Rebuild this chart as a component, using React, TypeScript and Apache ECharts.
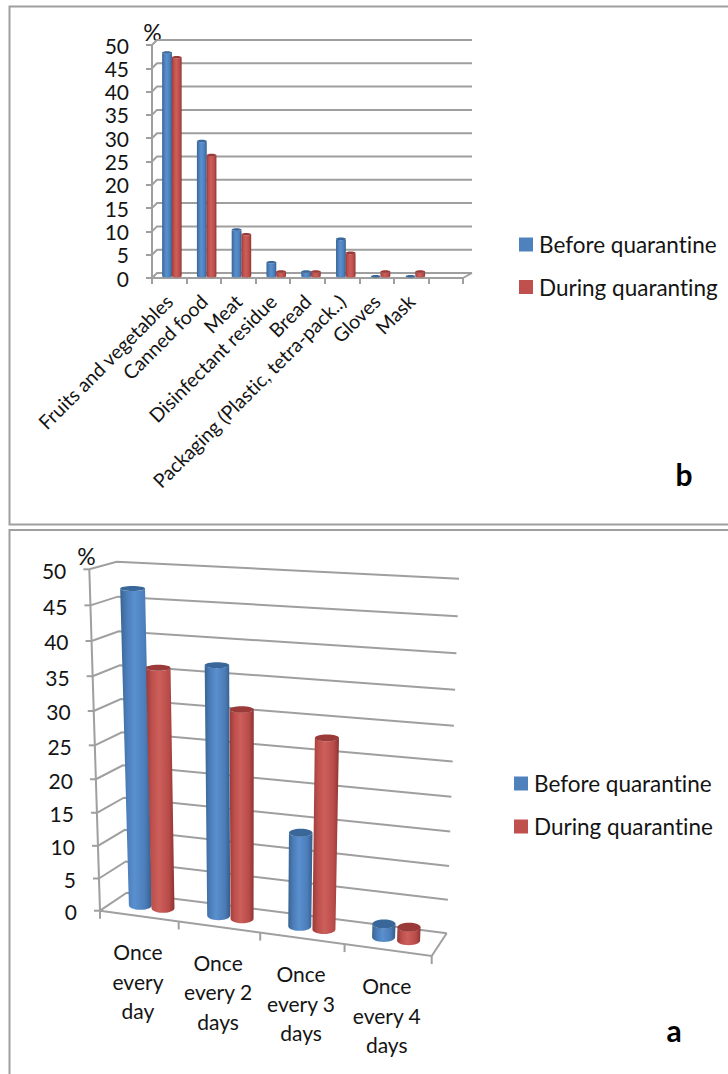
import React, { useEffect, useRef } from "react";
import * as echarts from "echarts";

const yTicks = [0, 5, 10, 15, 20, 25, 30, 35, 40, 45, 50];

const foodCategories = [
  "Fruits and vegetables",
  "Canned food",
  "Meat",
  "Disinfectant residue",
  "Bread",
  "Packaging (Plastic, tetra-pack..)",
  "Gloves",
  "Mask",
  "",
];
const foodBefore = [48, 29, 10, 3, 1, 8, 0, 0];
const foodDuring = [47, 26, 9, 1, 1, 5, 1, 1];

const freqCategories = [
  "Once\nevery\nday",
  "Once\nevery 2\ndays",
  "Once\nevery 3\ndays",
  "Once\nevery 4\ndays",
];
const freqBefore = [47, 37, 14, 2];
const freqDuring = [36, 31, 28, 2];

const BEFORE = "Before quarantine";
const DURING_B = "During quaranting";
const DURING_A = "During quarantine";
const FONT = "Lato";
const GREY = "#9f9f9f";
const TEXT = "#141414";

const shade = {
  blue: {
    base: "#4f81bd",
    cap: "#3a6799",
    stops: ["#39648f", "#4a7cb8", "#5a90cf", "#4a7cb8", "#345c88"],
  },
  red: {
    base: "#c0504d",
    cap: "#9b3b39",
    stops: ["#973a38", "#bd4f4c", "#cd5f5b", "#b94c49", "#8c3432"],
  },
};

type Pt = [number, number];
type Shade = typeof shade.blue;

function bodyGradient(s: Shade) {
  const offs = [0, 0.2, 0.45, 0.8, 1];
  return new echarts.graphic.LinearGradient(
    0, 0, 1, 0,
    s.stops.map((color, i) => ({ offset: offs[i], color }))
  );
}

// cylinder made of a shaded body and a darker cap
function cylinder(top: Pt, bot: Pt, rxT: number, rxB: number, ryT: number, ryB: number, s: Shade) {
  const pts: Pt[] = [];
  const N = 14;
  for (let i = 0; i <= N; i++) {
    const a = Math.PI - (Math.PI * i) / N;
    pts.push([bot[0] + rxB * Math.cos(a), bot[1] + ryB * Math.sin(a)]);
  }
  for (let i = 0; i <= N; i++) {
    const a = (Math.PI * i) / N;
    pts.push([top[0] + rxT * Math.cos(a), top[1] + ryT * Math.sin(a)]);
  }
  return {
    type: "group",
    children: [
      { type: "polygon", shape: { points: pts }, style: { fill: bodyGradient(s) } },
      {
        type: "ellipse",
        shape: { cx: top[0], cy: top[1], rx: rxT, ry: ryT },
        style: { fill: s.cap },
      },
    ],
  };
}

// ---------- lower chart: perspective frame ----------
const C = {
  f00: [100, 910.7], // front-left floor
  f10: [431.7, 956], // front-right floor
  b00: [126.7, 892.7], // back-left floor
  b10: [446.7, 933.3], // back-right floor
  f01: [89.3, 569.3], // front-left top
  f11: [447.7, 590], // front-right top
  b01: [116.7, 561.7], // back-left top
  b11: [459, 578.7], // back-right top
};
const warpU = (u: number) => u * (0.932 + 0.068 * u);
const warpV = (v: number) => v * (0.9375 + 0.0625 * v);
function project(u: number, v0: number, d: number): Pt {
  const f = warpU(u);
  const v = warpV(v0);
  const lerp = (a: number, b: number, t: number) => a + (b - a) * t;
  const at = (k: 0 | 1) => {
    const f0 = lerp(C.f00[k], C.f10[k], f);
    const b0 = lerp(C.b00[k], C.b10[k], f);
    const f1 = lerp(C.f01[k], C.f11[k], f);
    const b1 = lerp(C.b01[k], C.b11[k], f);
    return lerp(lerp(f0, b0, d), lerp(f1, b1, d), v);
  };
  return [at(0), at(1)];
}
function toUV(params: any, api: any, x: number, y: number) {
  const r = params.coordSys;
  const p = api.coord([x, y]);
  return [(p[0] - r.x) / r.width, (r.y + r.height - p[1]) / r.height];
}

const line = (points: Pt[], w = 2) => ({
  type: "polyline",
  shape: { points },
  style: { stroke: GREY, lineWidth: w, fill: "none" },
});

function gridLineA(params: any, api: any) {
  const [, v] = toUV(params, api, 0, api.value(1));
  const el: any[] = [line([project(0, v, 0), project(0, v, 1), project(1, v, 1)])];
  const front = project(0, v, 0);
  el.push(line([[front[0] - 6, front[1]], front]));
  el.push({
    type: "text",
    x: front[0] - 23,
    y: front[1] + 1,
    style: {
      text: String(api.value(1)),
      fontFamily: FONT,
      fontSize: 21,
      fill: TEXT,
      align: "right",
      verticalAlign: "middle",
    },
  });
  return { type: "group", children: el };
}

function frameA(params: any, api: any) {
  const i = api.value(0);
  const u = i / freqCategories.length;
  const p = project(u, 0, 0);
  const el: any[] = [line([p, [p[0], p[1] + 8]])];
  if (i === 0) {
    el.push(line([project(0, 0, 0), project(0, 1, 0)]));
    el.push(line([project(0, 0, 0), project(1, 0, 0), project(1, 0, 1)]));
  }
  if (i < freqCategories.length) {
    const c = project((i + 0.5) / freqCategories.length, 0, 0);
    el.push({
      type: "text",
      x: c[0] - 1,
      y: c[1] + 65,
      style: {
        text: freqCategories[i],
        fontFamily: FONT,
        fontSize: 21,
        lineHeight: 29.5,
        fill: TEXT,
        align: "center",
        verticalAlign: "middle",
      },
    });
  }
  return { type: "group", children: el };
}

const cylA = (s: Shade, off: number) => (params: any, api: any) => {
  const [u0, v] = toUV(params, api, api.value(0), api.value(1));
  const u = u0 + off;
  const bot = project(u, 0, 0.5);
  const top = project(u, v, 0.5);
  return cylinder(top, bot, 11.5 + 1 * v, 11.5, 4.6 - 2.2 * v, 4.6, s);
};

// ---------- upper chart: shallow depth ----------
function gridLineB(params: any, api: any) {
  const r = params.coordSys;
  const p = api.coord([0, api.value(1)]);
  return line([
    [r.x, p[1]],
    [r.x + 5, p[1] - 5],
    [r.x + r.width + 9, p[1] - 5],
  ]);
}
function floorB(params: any) {
  const r = params.coordSys;
  const y = r.y + r.height;
  return line([
    [r.x + r.width, y],
    [r.x + r.width + 9, y - 5],
  ]);
}
const cylB = (s: Shade, off: number) => (params: any, api: any) => {
  const r = params.coordSys;
  const p = api.coord([api.value(0), api.value(1)]);
  const base = api.coord([api.value(0), 0]);
  const t = (p[0] - r.x) / r.width;
  const x = r.x + 2.5 + t * (r.width + 2) + off;
  return cylinder([x, p[1] - 1.8], [x, base[1] - 1.8], 4.9, 4.9, 1.3, 1.3, s);
};

const indexed = (vals: number[]) => vals.map((v, i) => [i, v]);
const custom = (o: any) => ({ type: "custom", silent: true, ...o });

export default function App() {
  const ref = useRef<HTMLDivElement>(null);
  useEffect(() => {
    const chart = echarts.init(ref.current!, null, { renderer: "svg" });
    const legendBase = {
      orient: "vertical",
      icon: "rect",
      itemWidth: 14,
      itemHeight: 14,
      selectedMode: false,
      padding: 0,
      textStyle: { fontFamily: FONT, fontSize: 22.5, color: TEXT, padding: [0, 0, 0, 1] },
    };
    const hiddenAxis = { show: false };
    chart.setOption({
      animation: false,
      textStyle: { fontFamily: FONT },
      legend: [
        { ...legendBase, left: 519, top: 233, itemGap: 19.5, data: [BEFORE, DURING_B] },
        { ...legendBase, left: 514, top: 772, itemGap: 20, data: [BEFORE, DURING_A] },
      ],
      grid: [
        { left: 152, top: 45, width: 311, height: 233 },
        { left: 100, top: 569, width: 332, height: 342 },
      ],
      xAxis: [
        {
          gridIndex: 0,
          type: "category",
          data: foodCategories,
          axisLine: { lineStyle: { color: GREY, width: 2 } },
          axisTick: { show: true, length: 6, lineStyle: { color: GREY, width: 2 } },
          axisLabel: {
            interval: 0,
            rotate: 45,
            margin: 20,
            fontFamily: FONT,
            fontSize: 19.5,
            color: TEXT,
          },
          splitLine: { show: false },
        },
        {
          gridIndex: 1,
          type: "category",
          data: freqCategories.map((c) => c.replace(/\n/g, " ")),
          ...hiddenAxis,
        },
      ],
      yAxis: [
        {
          gridIndex: 0,
          type: "value",
          min: 0,
          max: 50,
          interval: 5,
          axisLine: { show: true, lineStyle: { color: GREY, width: 2 } },
          axisTick: { show: true, length: 6, lineStyle: { color: GREY, width: 2 } },
          axisLabel: {
            margin: 23,
            fontFamily: FONT,
            fontSize: 21,
            color: TEXT,
            padding: [5, 0, 0, 0],
          },
          splitLine: { show: false },
        },
        { gridIndex: 1, type: "value", min: 0, max: 50, interval: 5, ...hiddenAxis },
      ],
      series: [
        custom({
          xAxisIndex: 0, yAxisIndex: 0, data: yTicks.map((t) => [0, t]),
          encode: { x: 0, y: 1 }, renderItem: gridLineB,
        }),
        custom({
          xAxisIndex: 0, yAxisIndex: 0, data: [[0, 0]],
          encode: { x: 0, y: 1 }, renderItem: floorB,
        }),
        custom({
          name: BEFORE, xAxisIndex: 0, yAxisIndex: 0, data: indexed(foodBefore),
          encode: { x: 0, y: 1 }, itemStyle: { color: shade.blue.base },
          renderItem: cylB(shade.blue, -4.85),
        }),
        custom({
          name: DURING_B, xAxisIndex: 0, yAxisIndex: 0, data: indexed(foodDuring),
          encode: { x: 0, y: 1 }, itemStyle: { color: shade.red.base },
          renderItem: cylB(shade.red, 4.85),
        }),
        custom({
          xAxisIndex: 1, yAxisIndex: 1, data: yTicks.map((t) => [0, t]),
          encode: { x: 0, y: 1 }, renderItem: gridLineA,
        }),
        custom({
          xAxisIndex: 1, yAxisIndex: 1,
          data: [0, 1, 2, 3, 4].map((i) => [i, 0]),
          encode: { x: 0, y: 1 }, renderItem: frameA,
        }),
        custom({
          name: BEFORE, xAxisIndex: 1, yAxisIndex: 1, data: indexed(freqBefore),
          encode: { x: 0, y: 1 }, itemStyle: { color: shade.blue.base },
          renderItem: cylA(shade.blue, -0.0365),
        }),
        custom({
          name: DURING_A, xAxisIndex: 1, yAxisIndex: 1, data: indexed(freqDuring),
          encode: { x: 0, y: 1 }, itemStyle: { color: shade.red.base },
          renderItem: cylA(shade.red, 0.0365),
        }),
      ],
      graphic: [
        {
          type: "rect", silent: true,
          shape: { x: 9.5, y: 6.5, width: 760, height: 518 },
          style: { fill: "none", stroke: GREY, lineWidth: 2 },
        },
        {
          type: "rect", silent: true,
          shape: { x: 9.5, y: 530, width: 760, height: 600 },
          style: { fill: "none", stroke: GREY, lineWidth: 2 },
        },
        {
          type: "text", x: 152.5, y: 32,
          style: { text: "%", fontFamily: FONT, fontSize: 23, fill: TEXT, align: "center", verticalAlign: "middle" },
        },
        {
          type: "text", x: 86.5, y: 556,
          style: { text: "%", fontFamily: FONT, fontSize: 23, fill: TEXT, align: "center", verticalAlign: "middle" },
        },
        {
          type: "text", x: 684, y: 474,
          style: { text: "b", fontFamily: FONT, fontSize: 30, fontWeight: "bold", fill: "#000", align: "center", verticalAlign: "middle" },
        },
        {
          type: "text", x: 674, y: 1030,
          style: { text: "a", fontFamily: FONT, fontSize: 30, fontWeight: "bold", fill: "#000", align: "center", verticalAlign: "middle" },
        },
      ],
    });
    return () => chart.dispose();
  }, []);
  return (
    <div
      ref={ref}
      style={{
        position: "absolute",
        left: 0,
        top: 0,
        width: 728,
        height: 1074,
        background: "#fff",
        fontVariantLigatures: "none",
      }}
    />
  );
}
